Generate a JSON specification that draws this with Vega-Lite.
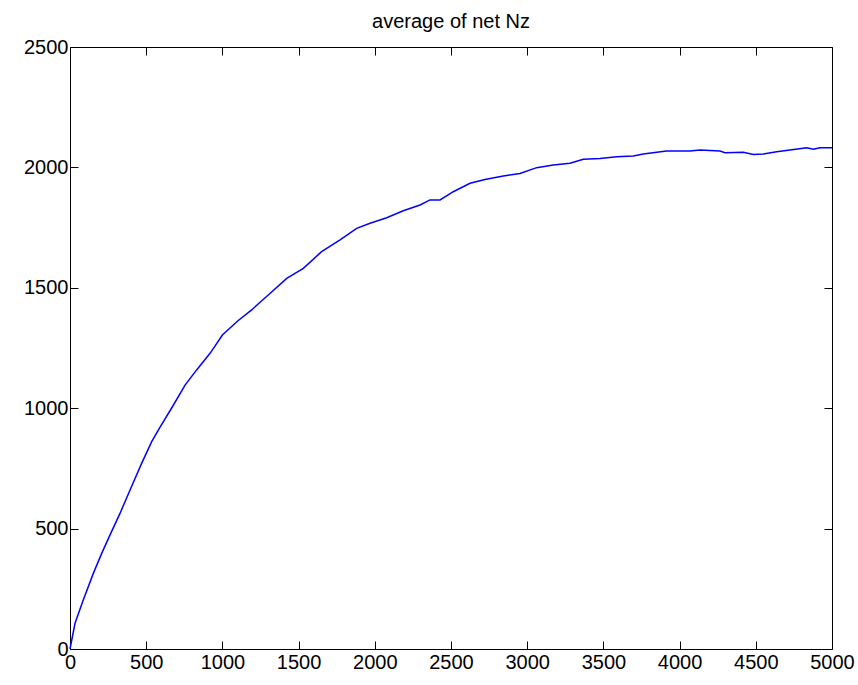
{
  "$schema": "https://vega.github.io/schema/vega-lite/v6.json",
  "width": 762,
  "height": 602,
  "autosize": "none",
  "padding": {"left": 70, "top": 47, "right": 26, "bottom": 36},
  "background": "white",
  "title": {"text": "average of net Nz", "font": "Liberation Sans", "fontSize": 20, "fontWeight": "normal", "color": "black", "offset": 5},
  "config": {
    "view": {"stroke": null},
    "axis": {"grid": false, "domainColor": "black", "tickColor": "black", "labelColor": "black", "labelFont": "Liberation Sans", "labelFontSize": 20, "tickSize": -8, "domainWidth": 1, "tickWidth": 1, "title": null, "format": "d", "labelFlush": false, "labelOverlap": false, "labelBound": false}
  },
  "data": {"values": [
    {"iter": 0, "nz": 0}, {"iter": 33, "nz": 107}, {"iter": 87, "nz": 203}, {"iter": 153, "nz": 314},
    {"iter": 208, "nz": 397}, {"iter": 262, "nz": 473}, {"iter": 328, "nz": 563}, {"iter": 394, "nz": 660},
    {"iter": 470, "nz": 771}, {"iter": 536, "nz": 861}, {"iter": 591, "nz": 921}, {"iter": 672, "nz": 1006},
    {"iter": 755, "nz": 1096}, {"iter": 831, "nz": 1159}, {"iter": 919, "nz": 1228}, {"iter": 1000, "nz": 1304},
    {"iter": 1100, "nz": 1362}, {"iter": 1192, "nz": 1408}, {"iter": 1247, "nz": 1440}, {"iter": 1301, "nz": 1470},
    {"iter": 1422, "nz": 1539}, {"iter": 1531, "nz": 1581}, {"iter": 1651, "nz": 1650}, {"iter": 1772, "nz": 1699},
    {"iter": 1881, "nz": 1747}, {"iter": 1969, "nz": 1768}, {"iter": 2078, "nz": 1791}, {"iter": 2187, "nz": 1820},
    {"iter": 2297, "nz": 1844}, {"iter": 2362, "nz": 1865}, {"iter": 2428, "nz": 1865}, {"iter": 2515, "nz": 1899},
    {"iter": 2625, "nz": 1934}, {"iter": 2723, "nz": 1950}, {"iter": 2843, "nz": 1964}, {"iter": 2953, "nz": 1975},
    {"iter": 3062, "nz": 1999}, {"iter": 3171, "nz": 2010}, {"iter": 3281, "nz": 2017}, {"iter": 3368, "nz": 2034},
    {"iter": 3478, "nz": 2037}, {"iter": 3587, "nz": 2044}, {"iter": 3696, "nz": 2047}, {"iter": 3762, "nz": 2056},
    {"iter": 3850, "nz": 2063}, {"iter": 3915, "nz": 2068}, {"iter": 4068, "nz": 2068}, {"iter": 4134, "nz": 2072},
    {"iter": 4265, "nz": 2068}, {"iter": 4298, "nz": 2061}, {"iter": 4418, "nz": 2063}, {"iter": 4484, "nz": 2054},
    {"iter": 4549, "nz": 2056}, {"iter": 4637, "nz": 2065}, {"iter": 4724, "nz": 2072}, {"iter": 4834, "nz": 2082},
    {"iter": 4878, "nz": 2075}, {"iter": 4921, "nz": 2082}, {"iter": 5000, "nz": 2082}
  ]},
  "layer": [
    {
      "mark": {"type": "line", "color": "#0000ff", "strokeWidth": 1.5},
      "encoding": {
        "x": {"field": "iter", "type": "quantitative", "scale": {"domain": [0, 5000], "nice": false}, "axis": {"orient": "bottom", "values": [0,500,1000,1500,2000,2500,3000,3500,4000,4500,5000], "labelPadding": 11}},
        "y": {"field": "nz", "type": "quantitative", "scale": {"domain": [0, 2500], "nice": false}, "axis": {"orient": "left", "values": [0,500,1000,1500,2000,2500], "labelPadding": 10}}
      }
    },
    {
      "mark": {"type": "point", "opacity": 0},
      "encoding": {
        "x": {"field": "iter", "type": "quantitative", "axis": {"orient": "top", "values": [0,500,1000,1500,2000,2500,3000,3500,4000,4500,5000], "labels": false}},
        "y": {"field": "nz", "type": "quantitative", "axis": {"orient": "right", "values": [0,500,1000,1500,2000,2500], "labels": false}}
      }
    }
  ],
  "resolve": {"axis": {"x": "independent", "y": "independent"}}
}
